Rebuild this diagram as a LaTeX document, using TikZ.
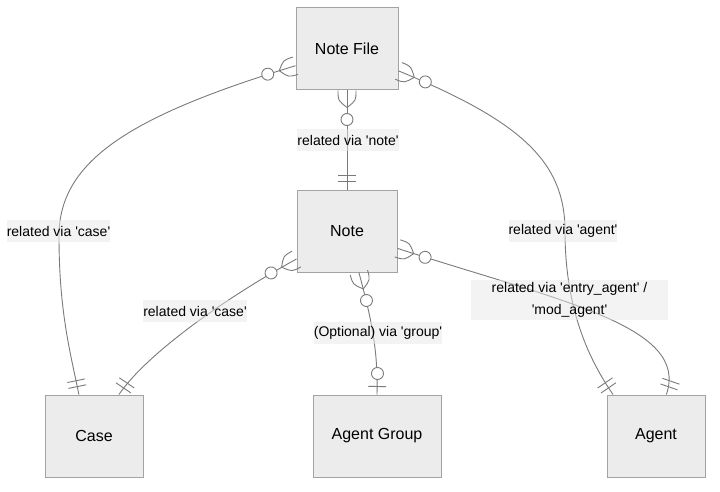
\documentclass[tikz,border=0pt]{standalone}
\usepackage{fontspec}
\setmainfont{Liberation Sans}
\usetikzlibrary{decorations.markings}
\definecolor{boxfill}{HTML}{ECECEC}
\definecolor{boxline}{HTML}{A3A3A3}
\definecolor{relline}{HTML}{7A7A7A}
\definecolor{lblfill}{HTML}{E8E8E8}
\newcommand{\ap}{\textquotesingle}
\tikzset{
  entity/.style={draw=boxline,fill=boxfill,line width=1pt,minimum height=82pt,inner sep=0pt,font=\fontsize{16}{19}\selectfont},
  rel/.style={draw=relline,line width=0.9pt},
  lbl/.style={fill=lblfill,fill opacity=0.5,text opacity=1,inner sep=0pt,minimum height=22pt,font=\fontsize{14}{22}\selectfont},
  pics/zeromany/.style={code={
    \draw[rel] (0,9) .. controls (10,9) .. (17,0) .. controls (10,-9) .. (0,-9);
    \draw[rel,fill=white] (29,0) circle (6);}},
  pics/zeroone/.style={code={
    \draw[rel] (8,-9) -- (8,9);
    \draw[rel,fill=white] (21,0) circle (6);}},
  pics/onlyone/.style={code={
    \draw[rel] (8,-9) -- (8,9) (14,-9) -- (14,9);}},
  start many/.style={postaction={decorate,decoration={markings,mark=at position 0 with {\pic[transform shape]{zeromany};}}}},
  end one/.style={postaction={decorate,decoration={markings,mark=at position 0.9999 with {\pic[transform shape,rotate=180]{onlyone};}}}},
  end zeroone/.style={postaction={decorate,decoration={markings,mark=at position 0.9999 with {\pic[transform shape,rotate=180]{zeroone};}}}},
}
\begin{document}
\begin{tikzpicture}[x=1pt,y=1pt]
  \useasboundingbox (0,0) rectangle (720,491);

  \node[entity,minimum width=102pt] (notefile) at (347,442) {Note File};
  \node[entity,minimum width=100pt] (note) at (347,260) {Note};
  \node[entity,minimum width=98pt] (case) at (94,55) {Case};
  \node[entity,minimum width=128pt] (agentgroup) at (377,55) {Agent Group};
  \node[entity,minimum width=98pt] (agent) at (656,55) {Agent};

  \draw[rel,start many,end one] (notefile.198) .. controls (130,375) and (59,330) .. (59,255) .. controls (59,180) and (70,140) .. (case.110);
  \draw[rel,start many,end one] (notefile.south) -- (note.north);
  \draw[rel,start many,end one] (notefile.-23) .. controls (520,370) and (565,330) .. (565,260) .. controls (565,180) and (590,130) .. (agent.136);
  \draw[rel,start many,end one] (note.209) .. controls (220,190) and (145,135) .. (case.59);
  \draw[rel,start many,end zeroone] (note.-74) .. controls (372,170) and (378,140) .. (agentgroup.north);
  \draw[rel,start many,end one] (note.-19) .. controls (560,190) and (690,165) .. (agent.76);

  \node[lbl] (lblcase) at (58.5,260) {related via \ap case\ap};
  \node[lbl] (lblnote) at (348,351) {related via \ap note\ap};
  \node[lbl] (lblagent) at (563,260) {related via \ap agent\ap};
  \node[lbl] (lblnotecase) at (195,180) {related via \ap case\ap};
  \node[lbl] (lblgroup) at (378,158) {(Optional) via \ap group\ap};
  \node[lbl,align=center,minimum width=197pt,minimum height=40pt] (lblentry) at (569.5,191) {related via \ap entry\_agent\ap{} /\\\ap mod\_agent\ap};
\end{tikzpicture}
\end{document}
